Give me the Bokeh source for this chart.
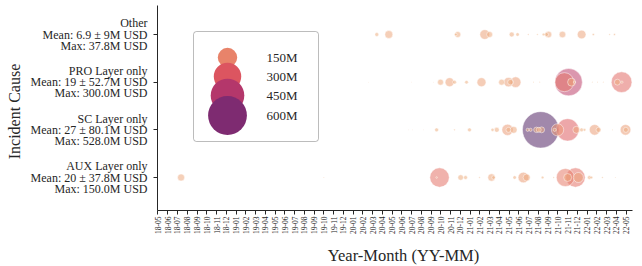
import math
from datetime import date
from bokeh.plotting import figure
from bokeh.layouts import row, column
from bokeh.models import FixedTicker, BoxAnnotation, Label, ColumnDataSource, Range1d
from bokeh.core.properties import value
from bokeh.embed import file_html
from bokeh.resources import INLINE

# ---------------- data ----------------
categories = ["AUX Layer only", "SC Layer only", "PRO Layer only", "Other"]
cat_mean = ["20 ± 37.8", "27 ± 80.1", "19 ± 52.7", "6.9 ± 9"]
cat_max = ["150.0", "528.0", "300.0", "37.8"]

month_labels = [
    "18-05", "18-06", "18-07", "18-08", "18-09", "18-10", "18-11", "18-12",
    "19-01", "19-02", "19-03", "19-04", "19-05", "19-06", "19-07", "19-08",
    "19-09", "19-10", "19-11", "19-12", "20-01", "20-02", "20-03", "20-04",
    "20-05", "20-06", "20-07", "20-08", "20-09", "20-10", "20-11", "20-12",
    "21-01", "21-02", "21-03", "21-04", "21-05", "21-06", "21-07", "21-08",
    "21-09", "21-10", "21-11", "21-12", "22-01", "22-02", "22-03", "22-04",
    "22-05",
]

other_dates = ["2020-03-14", "2020-04-21", "2020-11-17", "2020-11-23", "2021-02-16",
               "2021-03-01", "2021-05-09", "2021-05-27", "2021-06-30", "2021-07-28",
               "2021-08-17", "2021-08-26", "2021-09-02", "2021-10-15", "2021-12-14",
               "2022-01-20", "2022-03-10", "2022-03-25"]
other_vals = [6, 25, 3, 14, 37.8, 14, 10, 5, 1, 1, 3, 6, 17, 17, 30, 2, 1, 1.5]

pro_dates = ["2020-02-19", "2020-07-01", "2020-09-09", "2020-09-30", "2020-10-28",
             "2020-11-13", "2020-12-20", "2021-02-06", "2021-04-08", "2021-04-29",
             "2021-05-05", "2021-05-21", "2021-07-16", "2021-08-05", "2021-11-04",
             "2021-10-21", "2021-11-13", "2021-11-22", "2022-01-17", "2022-02-03",
             "2022-02-21", "2022-04-17", "2022-04-04", "2022-04-18"]
pro_vals = [0.3, 0.3, 0.3, 14, 32, 6, 5, 32, 14, 35, 12, 45, 0.5, 0.5, 300,
            144, 25, 2, 0.5, 0.5, 0.5, 170, 14, 2]

sc_dates = ["2020-06-22", "2020-07-04", "2020-08-08", "2020-09-18", "2020-11-13",
            "2020-12-29", "2021-03-10", "2021-03-23", "2021-04-26", "2021-04-29",
            "2021-05-15", "2021-08-08", "2021-06-28", "2021-07-07", "2021-07-25",
            "2021-08-02", "2021-08-11", "2021-10-31", "2021-09-21", "2021-09-30",
            "2021-11-28", "2021-12-14", "2021-12-23", "2022-01-24", "2022-02-06",
            "2022-03-19", "2022-04-29", "2022-04-30"]
sc_vals = [0.3, 0.3, 0.3, 6, 1, 6, 4, 10, 50, 10, 19, 528, 4, 4, 12, 10, 14,
           200, 4, 60, 20, 6, 3, 45, 10, 0.5, 45, 10]

aux_dates = ["2018-07-12", "2019-10-01", "2020-09-27", "2020-09-18", "2020-12-02",
             "2020-12-17", "2021-01-30", "2021-03-07", "2021-03-13", "2021-05-18",
             "2021-06-15", "2021-06-25", "2021-08-14", "2021-09-18", "2021-10-24",
             "2021-11-25", "2021-10-31", "2021-12-04", "2022-01-08", "2022-01-14",
             "2022-02-18", "2022-03-28"]
aux_vals = [20, 0.5, 150, 1, 12, 6, 1, 22, 5, 5, 45, 20, 3, 1, 130, 150, 25,
            40, 6, 3, 1, 0.5]

legend_vals = [150, 300, 450, 600]
legend_labels = ["150M", "300M", "450M", "600M"]

# ---------------- styling helpers ----------------
FONT = "Liberation Serif"
TXT = "#262626"
flare_stops = ["#edb081", "#e8836a", "#dc5560", "#b4376b", "#7e2b71", "#4b2362"]


def flare(t):
    t = min(max(t, 0.0), 1.0)
    n = len(flare_stops) - 1
    i = min(int(t * n), n - 1)
    f = t * n - i
    a = [int(flare_stops[i][k:k + 2], 16) for k in (1, 3, 5)]
    b = [int(flare_stops[i + 1][k:k + 2], 16) for k in (1, 3, 5)]
    c = [round(a[j] + (b[j] - a[j]) * f) for j in range(3)]
    return "#%02x%02x%02x" % tuple(c)


def month_pos(s):
    d = date.fromisoformat(s)
    return (d.year - 2018) * 12 + (d.month - 5) + (d.day - 1) / 30.0


def diam(v):
    return 19.4 * math.sqrt(v / 150.0)


DATA_NORM = 540.0
LEGEND_NORM = 750.0

xs, ys, sz, cols = [], [], [], []
for yi, (dts, vals) in enumerate([(aux_dates, aux_vals), (sc_dates, sc_vals),
                                  (pro_dates, pro_vals), (other_dates, other_vals)]):
    for d, v in zip(dts, vals):
        xs.append(month_pos(d))
        ys.append(yi)
        sz.append(diam(v))
        cols.append(flare(v / DATA_NORM))

order = sorted(range(len(xs)), key=lambda i: -sz[i])
src = ColumnDataSource(dict(x=[xs[i] for i in order], y=[ys[i] for i in order],
                            s=[sz[i] for i in order], c=[cols[i] for i in order]))

# ---------------- layout geometry (page pixels, origin at top-left) ----------------
PAGE_W, PAGE_H = 642, 266
LEFT_W = 148            # label column width
MW = PAGE_W - LEFT_W    # main figure width
MH = 246                # main figure height
TH = PAGE_H - MH        # x-title strip height
FL, FR, FT, FB = 9, 10, 5, 36
fw = MW - FL - FR
fh = MH - FT - FB
X0, X1 = -0.05, 48.65
PXU = (177 - 34) / 3.0  # pixels per category
Y1 = 3 + (34 - FT) / PXU
Y0 = Y1 - fh / PXU
yr = Range1d(Y0, Y1)

FRAME_LEFT_PAGE = LEFT_W + FL


def px_x(px):  # page px -> data x
    return X0 + (px - FRAME_LEFT_PAGE) / fw * (X1 - X0)


def px_y(py):  # page px -> data y
    return Y1 - (py - FT) / fh * (Y1 - Y0)


# ---------------- main figure ----------------
p = figure(width=MW, height=MH, output_backend="svg", toolbar_location=None,
           x_range=Range1d(X0, X1), y_range=yr,
           min_border_left=FL, min_border_right=FR, min_border_top=FT,
           min_border_bottom=FB)
p.outline_line_color = None
p.xgrid.visible = False
p.ygrid.visible = False

p.add_layout(BoxAnnotation(left=px_x(193), right=px_x(318), top=px_y(31),
                           bottom=px_y(141), fill_color="white", fill_alpha=1.0,
                           line_color="#222222", line_width=1, border_radius=3,
                           level="underlay"))

p.scatter("x", "y", size="s", fill_color="c", fill_alpha=0.54,
          line_color="white", line_width=0.6, line_alpha=0.8, source=src)

p.xaxis.ticker = FixedTicker(ticks=list(range(len(month_labels))))
p.xaxis.major_label_overrides = {i: lab for i, lab in enumerate(month_labels)}
p.xaxis.major_label_orientation = math.pi / 2
p.yaxis.ticker = FixedTicker(ticks=list(range(len(categories))))
p.yaxis.major_label_overrides = {i: "" for i in range(len(categories))}
p.yaxis.major_label_standoff = 0

for ax in (p.xaxis[0], p.yaxis[0]):
    ax.axis_line_color = TXT
    ax.axis_line_width = 1
    ax.major_tick_line_color = TXT
    ax.major_tick_out = 4
    ax.major_tick_in = 0
    ax.minor_tick_out = 0
    ax.minor_tick_in = 0
    ax.major_label_text_font = FONT
    ax.major_label_text_color = TXT

p.xaxis.major_label_text_font_size = "7.5px"
p.xaxis.major_label_standoff = 2

# legend circles and labels
leg_y_px = [57, 76, 95, 115]
leg_src = ColumnDataSource(dict(
    x=[px_x(227)] * len(legend_vals), y=[px_y(v) for v in leg_y_px],
    s=[diam(v) for v in legend_vals], c=[flare(v / LEGEND_NORM) for v in legend_vals]))
p.scatter("x", "y", size="s", fill_color="c", line_color=None, source=leg_src)
for lab, py in zip(legend_labels, leg_y_px):
    p.add_layout(Label(x=px_x(266), y=px_y(py), text=lab, text_font=FONT,
                       text_font_size="13px", text_color=TXT,
                       text_baseline="middle", text_align="left"))

# ---------------- left label column ----------------
lp = figure(width=LEFT_W, height=MH, output_backend="svg", toolbar_location=None,
            x_range=Range1d(0, LEFT_W), y_range=yr,
            min_border_left=0, min_border_right=0, min_border_top=FT,
            min_border_bottom=FB)
lp.axis.visible = False
lp.grid.visible = False
lp.outline_line_color = None

lab_x, lab_y, lab_t = [], [], []
for i in range(len(categories)):
    lines = [categories[i], f"Mean: {cat_mean[i]}M USD", f"Max: {cat_max[i]}M USD"]
    for k, line in enumerate(lines):
        lab_x.append(LEFT_W - 1)
        lab_y.append(i + (1 - k) * 11.2 / PXU)
        lab_t.append(line)
lp.text(x="x", y="y", text="t", source=ColumnDataSource(dict(x=lab_x, y=lab_y, t=lab_t)),
        text_font=value(FONT), text_font_size=value("12px"), text_color=TXT,
        text_align="right", text_baseline="middle")
lp.text(x=[14], y=[px_y(111)], text=["Incident Cause"], angle=math.pi / 2,
        text_font=value(FONT), text_font_size=value("16px"), text_color=TXT,
        text_align="center", text_baseline="middle")

# ---------------- x-axis title strip ----------------
tp = figure(width=PAGE_W, height=TH, output_backend="svg", toolbar_location=None,
            x_range=Range1d(0, PAGE_W), y_range=Range1d(0, TH),
            min_border_left=0, min_border_right=0, min_border_top=0,
            min_border_bottom=0)
tp.axis.visible = False
tp.grid.visible = False
tp.outline_line_color = None
tp.text(x=[403], y=[TH - (255 - MH)], text=["Year-Month (YY-MM)"],
        text_font=value(FONT), text_font_size=value("16.5px"), text_color=TXT,
        text_align="center", text_baseline="middle")

layout = column(row(lp, p), tp)
open("out.html", "w").write(file_html(layout, INLINE))
